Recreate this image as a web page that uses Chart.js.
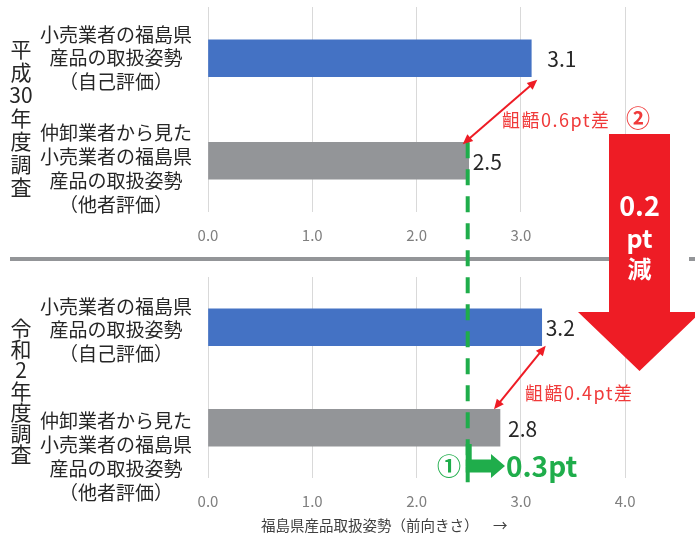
<!DOCTYPE html>
<html lang="ja">
<head>
<meta charset="utf-8">
<script src="https://cdn.jsdelivr.net/npm/chart.js@4.4.1/dist/chart.umd.min.js"></script>
<style>
  html, body { margin: 0; padding: 0; background: #ffffff; }
  #wrap { position: relative; width: 695px; height: 535px; overflow: hidden; }
  canvas { position: absolute; left: 0; }
</style>
</head>
<body>
<div id="wrap">
  <canvas id="chartH30" width="695" height="250" style="top:0;width:695px;height:250px"></canvas>
  <canvas id="chartR2" width="695" height="270" style="top:265px;width:695px;height:270px"></canvas>
  <canvas id="overlay" width="695" height="535" style="top:0;width:695px;height:535px;z-index:5;pointer-events:none"></canvas>
</div>
<script>
// ---- data ----
const categories = [
  ["小売業者の福島県", "産品の取扱姿勢", "（自己評価）"],
  ["仲卸業者から見た", "小売業者の福島県", "産品の取扱姿勢", "（他者評価）"]
];
const valuesH30 = [3.1, 2.5];
const valuesR2 = [3.2, 2.8];
const xTicks = [0, 1, 2, 3, 4];
const titleH30 = ["平", "成", "30", "年", "度", "調", "査"];
const titleR2 = ["令", "和", "2", "年", "度", "調", "査"];
const axisTitle = "福島県産品取扱姿勢（前向きさ）";
const axisArrow = "→";
const gapLabelH30 = "齟齬0.6pt差";
const gapLabelR2 = "齟齬0.4pt差";
const gapMarkH30 = "②";
const shrinkLabel = ["0.2", "pt", "減"];
const riseMark = "①";
const riseLabel = "0.3pt";

// ---- styles ----
const FONT = "'Noto Sans CJK JP', 'Noto Sans', sans-serif";
const BLUE = "#4472c4";
const GRAY = "#939598";
const GREEN = "#1fad4b";
const RED = "#ee1c25";
const TEXT = "#262626";

const valueLabels = {
  id: 'valueLabels',
  afterDatasetsDraw(chart, args, opts) {
    const ctx = chart.ctx;
    const meta = chart.getDatasetMeta(0);
    const data = chart.data.datasets[0].data;
    ctx.save();
    ctx.font = "21px " + FONT;
    ctx.fillStyle = TEXT;
    ctx.textBaseline = 'middle';
    ctx.textAlign = 'left';
    meta.data.forEach((bar, i) => {
      ctx.fillText(data[i].toFixed(1), bar.x + (opts.offsets[i] || 0), bar.y + 1);
    });
    ctx.restore();
  }
};

const yLabelShift = {
  id: 'yLabelShift',
  beforeDraw(chart, args, opts) {
    const s = chart.scales.y;
    if (!s || typeof s.getLabelItems !== 'function') return;
    const items = s.getLabelItems(chart.chartArea);
    if (!items || items.__shifted) return;
    items.forEach((it, i) => {
      if (it.options && it.options.translation) it.options.translation[1] += (opts.shifts[i] || 0);
    });
    items.__shifted = true;
  }
};

function makeChart(id, values, cfg) {
  return new Chart(document.getElementById(id), {
    type: 'bar',
    data: {
      labels: categories,
      datasets: [{
        data: values,
        backgroundColor: [BLUE, GRAY],
        borderWidth: 0,
        barThickness: 37
      }]
    },
    options: {
      indexAxis: 'y',
      responsive: false,
      animation: false,
      events: [],
      layout: { padding: { top: cfg.padTop, left: 0, right: 0, bottom: 0 } },
      plugins: {
        legend: { display: false },
        tooltip: { enabled: false },
        valueLabels: { offsets: cfg.valueOffsets },
        yLabelShift: { shifts: cfg.labelShifts }
      },
      scales: {
        x: {
          min: 0,
          max: 4.67,
          afterBuildTicks: s => { s.ticks = xTicks.map(v => ({ value: v })); },
          ticks: {
            callback: v => Number(v).toFixed(1),
            color: '#7f7f7f',
            font: { family: FONT, size: 15 },
            padding: 14,
            maxRotation: 0
          },
          grid: { color: '#d9d9d9', lineWidth: 1, drawTicks: false },
          border: { display: false },
          afterFit: s => { s.height = cfg.xHeight; s.paddingLeft = 0; s.paddingRight = 0; }
        },
        y: {
          ticks: {
            crossAlign: 'center',
            padding: 16,
            color: TEXT,
            font: { family: FONT, size: 19, lineHeight: 1.25 }
          },
          grid: { display: false, drawTicks: false },
          border: { display: false },
          afterFit: s => { s.width = 208; s.paddingTop = 0; s.paddingBottom = 0; }
        }
      }
    },
    plugins: [valueLabels, yLabelShift]
  });
}

const chartTop = makeChart('chartH30', valuesH30, {
  padTop: 7, xHeight: 38, valueOffsets: [16, 4], labelShifts: [0, 8]
});
const chartBottom = makeChart('chartR2', valuesR2, {
  padTop: 12, xHeight: 57, valueOffsets: [4, 8], labelShifts: [3, 29]
});
const BOTTOM_TOP = 265;

function doubleArrow(ctx, x1, y1, x2, y2, color) {
  const ang = Math.atan2(y2 - y1, x2 - x1);
  const hl = 10, hw = 4.5;
  ctx.save();
  ctx.strokeStyle = color; ctx.fillStyle = color; ctx.lineWidth = 2;
  const sx = x1 + Math.cos(ang) * hl * 0.8, sy = y1 + Math.sin(ang) * hl * 0.8;
  const ex = x2 - Math.cos(ang) * hl * 0.8, ey = y2 - Math.sin(ang) * hl * 0.8;
  ctx.beginPath(); ctx.moveTo(sx, sy); ctx.lineTo(ex, ey); ctx.stroke();
  function head(px, py, a) {
    ctx.beginPath();
    ctx.moveTo(px, py);
    ctx.lineTo(px - Math.cos(a) * hl - Math.sin(a) * hw, py - Math.sin(a) * hl + Math.cos(a) * hw);
    ctx.lineTo(px - Math.cos(a) * hl + Math.sin(a) * hw, py - Math.sin(a) * hl - Math.cos(a) * hw);
    ctx.closePath(); ctx.fill();
  }
  head(x2, y2, ang);
  head(x1, y1, ang + Math.PI);
  ctx.restore();
}

function drawOverlay() {
  const ctx = document.getElementById('overlay').getContext('2d');
  ctx.clearRect(0, 0, 695, 535);
  const mTop = chartTop.getDatasetMeta(0).data;
  const mBot = chartBottom.getDatasetMeta(0).data;

  // vertical survey titles
  ctx.save();
  ctx.fillStyle = TEXT;
  ctx.textAlign = 'center';
  ctx.textBaseline = 'middle';
  ctx.font = "21px " + FONT;
  titleH30.forEach((c, i) => ctx.fillText(c, 21, 49 + i * 23));
  titleR2.forEach((c, i) => ctx.fillText(c, 21, 328 + i * 21));
  ctx.restore();

  // separator
  ctx.save();
  ctx.strokeStyle = GRAY; ctx.lineWidth = 4;
  ctx.beginPath(); ctx.moveTo(10, 259); ctx.lineTo(612, 259); ctx.stroke();
  ctx.beginPath(); ctx.moveTo(689, 259); ctx.lineTo(695, 259); ctx.stroke();
  ctx.restore();

  // axis title
  ctx.save();
  ctx.fillStyle = '#404040';
  ctx.font = "14.5px " + FONT;
  ctx.textBaseline = 'middle';
  ctx.textAlign = 'left';
  ctx.fillText(axisTitle, 261, 525);
  ctx.fillText(axisArrow, 493, 525);
  ctx.restore();

  // green dashed reference line at H30 other-evaluation value
  const gx = chartTop.scales.x.getPixelForValue(valuesH30[1]) - 1;
  const gTop = mTop[1].y - mTop[1].height / 2;
  ctx.save();
  ctx.strokeStyle = GREEN; ctx.lineWidth = 4; ctx.setLineDash([16, 11]);
  ctx.beginPath(); ctx.moveTo(gx, gTop); ctx.lineTo(gx, 483); ctx.stroke();
  ctx.restore();

  // green arrow (rise)
  const gy = 466;
  const gEnd = chartBottom.scales.x.getPixelForValue(valuesR2[1]) + 5;
  ctx.save();
  ctx.fillStyle = GREEN;
  ctx.fillRect(gx - 2, 444, 6, gy - 444);
  ctx.beginPath();
  ctx.moveTo(gx - 2, gy - 6.5);
  ctx.lineTo(gEnd - 14, gy - 6.5);
  ctx.lineTo(gEnd - 14, gy - 12);
  ctx.lineTo(gEnd, gy);
  ctx.lineTo(gEnd - 14, gy + 12);
  ctx.lineTo(gEnd - 14, gy + 6.5);
  ctx.lineTo(gx - 2, gy + 6.5);
  ctx.closePath(); ctx.fill();
  ctx.textBaseline = 'middle';
  ctx.textAlign = 'center';
  ctx.font = "bold 24px " + FONT;
  ctx.fillText(riseMark, 449, gy);
  ctx.textAlign = 'left';
  ctx.font = "bold 28px " + FONT;
  ctx.fillText(riseLabel, gEnd + 1, gy);
  ctx.restore();

  // red gap arrows
  const hTop = mTop[0].height / 2;
  doubleArrow(ctx, mTop[0].x + 6, mTop[0].y + hTop + 3, mTop[1].x - 6, mTop[1].y - mTop[1].height / 2 + 2, RED);
  const hB = mBot[0].height / 2;
  doubleArrow(ctx, mBot[0].x + 4, BOTTOM_TOP + mBot[0].y + hB, mBot[1].x - 6, BOTTOM_TOP + mBot[1].y - mBot[1].height / 2 + 0, RED);

  ctx.save();
  ctx.fillStyle = '#f03a3a';
  ctx.textBaseline = 'middle';
  ctx.textAlign = 'left';
  ctx.font = "18px " + FONT;
  try { ctx.letterSpacing = '1.5px'; } catch (e) {}
  ctx.fillText(gapLabelH30, 502, 120);
  ctx.fillText(gapLabelR2, 525, 393);
  try { ctx.letterSpacing = '0px'; } catch (e) {}
  ctx.font = "bold 24px " + FONT;
  ctx.textAlign = 'center';
  ctx.fillText(gapMarkH30, 638, 118);
  ctx.restore();

  // big red downward arrow
  ctx.save();
  ctx.fillStyle = RED;
  ctx.beginPath();
  ctx.moveTo(609, 134);
  ctx.lineTo(670, 134);
  ctx.lineTo(670, 312);
  ctx.lineTo(701, 312);
  ctx.lineTo(639.5, 371);
  ctx.lineTo(578, 312);
  ctx.lineTo(609, 312);
  ctx.closePath(); ctx.fill();
  ctx.fillStyle = '#ffffff';
  ctx.textAlign = 'center';
  ctx.textBaseline = 'middle';
  ctx.font = "bold 27px " + FONT;
  ctx.fillText(shrinkLabel[0], 639.5, 206);
  ctx.font = "bold 25px " + FONT;
  ctx.fillText(shrinkLabel[1], 639.5, 238);
  ctx.font = "bold 24px " + FONT;
  ctx.fillText(shrinkLabel[2], 639.5, 269);
  ctx.restore();
}

drawOverlay();
if (document.fonts && document.fonts.ready) {
  document.fonts.ready.then(() => { chartTop.update('none'); chartBottom.update('none'); drawOverlay(); });
}
</script>
</body>
</html>
